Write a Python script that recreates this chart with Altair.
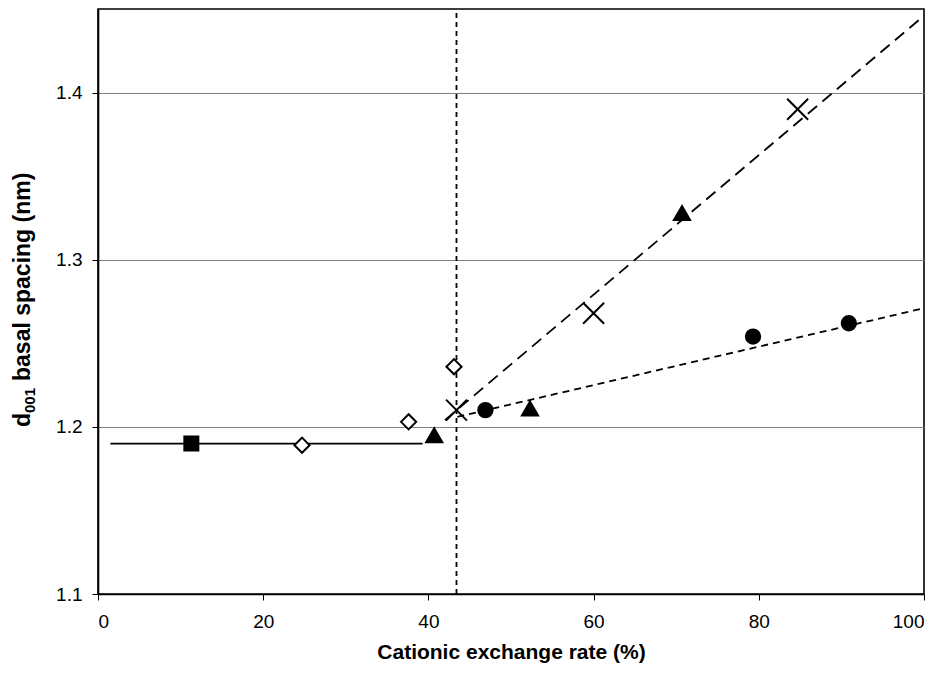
import altair as alt
import pandas as pd

# ---- data ----
square_x = [11.3]
square_y = [1.190]
diamond_x = [24.7, 37.6, 43.1]
diamond_y = [1.189, 1.203, 1.236]
triangle_x = [40.7, 52.3, 70.7]
triangle_y = [1.195, 1.211, 1.328]
cross_x = [43.4, 60.0, 84.7]
cross_y = [1.210, 1.268, 1.390]
circle_x = [46.9, 79.3, 90.9]
circle_y = [1.210, 1.254, 1.262]

solid_x = [1.5, 39.3]
solid_y = [1.190, 1.190]
vert_x = [43.4]
vert_y = [1.10]
vert_y2 = [1.45]
long_x = [42.0, 100.0]
long_y = [1.204, 1.446]
short_x = [43.5, 100.0]
short_y = [1.206, 1.271]

x_ticks = [0, 20, 40, 60, 80, 100]
y_ticks = [1.1, 1.2, 1.3, 1.4]

x_title = "Cationic exchange rate (%)"
y_title_parts = ["d", "001", "basal spacing (nm)"]

FONT = "Liberation Sans"

xs = alt.Scale(domain=[0, 100], nice=False)
ys = alt.Scale(domain=[1.1, 1.45], nice=False, zero=False)

x_enc = alt.X("x:Q", scale=xs,
              axis=alt.Axis(values=x_ticks, title=x_title, grid=False,
                            format="d", labelPadding=12, titlePadding=10,
                            titleFontSize=21))
y_enc = alt.Y("y:Q", scale=ys,
              axis=alt.Axis(values=y_ticks, title="", grid=True,
                            format=".1f", labelPadding=10))


def df(x, y):
    return pd.DataFrame({"x": x, "y": y})


def pts(x, y, shape, size, filled, sw=1.5):
    return alt.Chart(df(x, y)).mark_point(
        shape=shape, size=size, filled=filled, color="black",
        stroke="black", strokeWidth=sw, opacity=1,
        fill="black" if filled else "white",
    ).encode(x=x_enc, y=y_enc)


def line(x, y, dash, sw=1.8):
    kw = dict(color="black", strokeWidth=sw)
    if dash:
        kw["strokeDash"] = dash
    return alt.Chart(df(x, y)).mark_line(**kw).encode(x=x_enc, y=y_enc)


vert = alt.Chart(pd.DataFrame({"x": vert_x, "y": vert_y, "y2": vert_y2})).mark_rule(
    color="black", strokeWidth=1.8, strokeDash=[5, 4]
).encode(x=x_enc, y=y_enc, y2="y2:Q")

X_PATH = "M-1,-1L1,1M-1,1L1,-1"


# rotated y-axis title with a real subscript
def ytxt(text, size, px, py):
    return alt.Chart(pd.DataFrame({"t": [text]})).mark_text(
        font=FONT, fontSize=size, fontWeight="bold", angle=270,
        align="left", baseline="alphabetic", color="black",
    ).encode(text="t:N", x=alt.value(px), y=alt.value(py))


title_layers = [
    ytxt(y_title_parts[0], 23, -68, 418),
    ytxt(y_title_parts[1], 15, -63, 404),
    ytxt(y_title_parts[2], 23, -68, 372),
]

chart = alt.layer(
    line(solid_x, solid_y, None),
    vert,
    line(long_x, long_y, [12, 7]),
    line(short_x, short_y, [7, 5]),
    pts(square_x, square_y, "square", 210, True),
    pts(diamond_x, diamond_y, "diamond", 230, False, 2),
    pts(triangle_x, triangle_y, "triangle-up", 290, True),
    pts(cross_x, cross_y, X_PATH, 440, False, 2),
    pts(circle_x, circle_y, "circle", 220, True),
    *title_layers,
).properties(
    width=826, height=585,
    background="white",
    autosize=alt.AutoSizeParams(type="none"),
    padding={"left": 90, "top": 1, "right": 16, "bottom": 82},
).configure_view(
    stroke="black", strokeWidth=1.6
).configure_axis(
    labelFont=FONT, titleFont=FONT, labelFontSize=19, titleFontSize=21,
    labelColor="black", titleColor="black", titleFontWeight="bold",
    domainColor="black", domainWidth=1.6, tickColor="black", tickWidth=1,
    tickSize=6, gridColor="#808080", gridWidth=1,
)

chart.save("out.html", embed_options={"renderer": "svg", "actions": False})
